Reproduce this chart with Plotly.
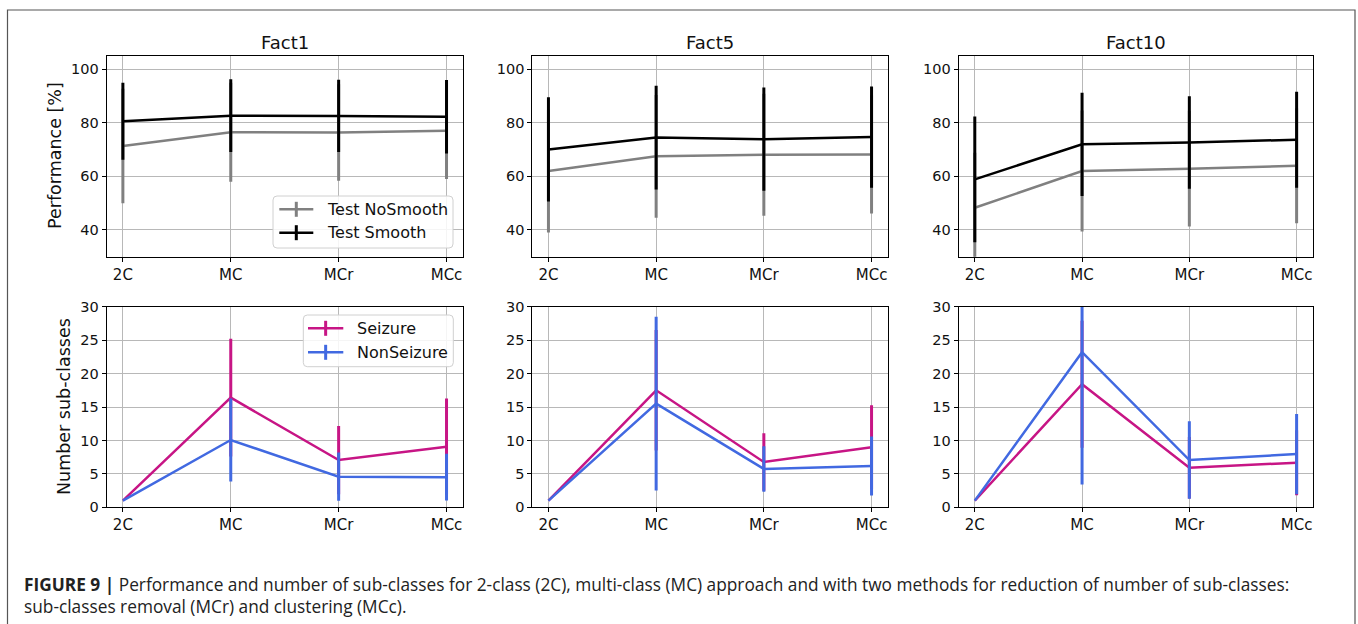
import plotly.graph_objects as go

W, H = 1358, 624

categories = ["2C", "MC", "MCr", "MCc"]
facts = ["Fact1", "Fact5", "Fact10"]

# Performance (top row)
nosmooth_mean = {
    "Fact1": [71.4, 76.5, 76.4, 77.1],
    "Fact5": [62.0, 67.5, 68.1, 68.2],
    "Fact10": [48.3, 62.0, 62.9, 64.0],
}
nosmooth_err = {
    "Fact1": [21.4, 18.5, 18.0, 18.1],
    "Fact5": [23.0, 22.9, 22.8, 22.1],
    "Fact10": [20.5, 22.6, 21.6, 21.5],
}
smooth_mean = {
    "Fact1": [80.6, 82.7, 82.6, 82.3],
    "Fact5": [70.1, 74.5, 73.9, 74.7],
    "Fact10": [58.9, 72.0, 72.7, 73.7],
}
smooth_err = {
    "Fact1": [14.4, 13.6, 13.5, 13.7],
    "Fact5": [19.5, 19.4, 19.3, 18.9],
    "Fact10": [23.5, 19.3, 17.3, 17.9],
}

# Number of sub-classes (bottom row)
seizure_mean = {
    "Fact1": [1.0, 16.4, 7.07, 9.06],
    "Fact5": [1.0, 17.5, 6.77, 8.97],
    "Fact10": [1.0, 18.4, 5.92, 6.67],
}
seizure_err = {
    "Fact1": [0.0, 8.8, 5.1, 7.2],
    "Fact5": [0.0, 9.0, 4.3, 6.3],
    "Fact10": [0.0, 9.5, 4.6, 4.85],
}
nonseizure_mean = {
    "Fact1": [1.0, 10.06, 4.58, 4.5],
    "Fact5": [1.0, 15.5, 5.73, 6.17],
    "Fact10": [1.0, 23.2, 7.07, 7.97],
}
nonseizure_err = {
    "Fact1": [0.0, 6.2, 3.6, 3.5],
    "Fact5": [0.0, 13.0, 3.4, 4.4],
    "Fact10": [0.0, 19.8, 5.8, 6.0],
}

GRAY = "#808080"
BLACK = "#000000"
MAGENTA = "#C71585"
BLUE = "#4169E1"

def px(x):
    return x / W

def py(y):
    return 1 - y / H

# panel pixel boxes
col_x = [(106.7, 462.7), (532.3, 887.7), (958.7, 1312.7)]
top_y = (56.0, 256.7)
bot_y = (306.7, 507.3)

fig = go.Figure()

def add_series(xa, ya, y, err, color):
    fig.add_trace(go.Scatter(
        x=categories, y=y, mode="lines",
        line=dict(color=color, width=2.5),
        error_y=dict(type="data", array=err, visible=True, color=color, thickness=3, width=0),
        xaxis=xa, yaxis=ya, showlegend=False, hoverinfo="x+y",
    ))

layout_axes = {}
FONT = "DejaVu Sans"
for i, f in enumerate(facts):
    ti, bi = i + 1, i + 4
    tx = "x" if ti == 1 else f"x{ti}"
    tyy = "y" if ti == 1 else f"y{ti}"
    bx, byy = f"x{bi}", f"y{bi}"
    add_series(tx, tyy, nosmooth_mean[f], nosmooth_err[f], GRAY)
    add_series(tx, tyy, smooth_mean[f], smooth_err[f], BLACK)
    add_series(bx, byy, seizure_mean[f], seizure_err[f], MAGENTA)
    add_series(bx, byy, nonseizure_mean[f], nonseizure_err[f], BLUE)

    common = dict(showline=True, linecolor="black", linewidth=1, mirror=True,
                  ticks="outside", ticklen=4, tickwidth=1, tickcolor="black",
                  showgrid=True, gridcolor="#b8b8b8", gridwidth=1, zeroline=False,
                  automargin=False)
    xd = [px(col_x[i][0]), px(col_x[i][1])]
    for idx, yb, yr, dt in [(ti, top_y, [30, 105], [40, 60, 80, 100]), (bi, bot_y, [0, 30], [0, 5, 10, 15, 20, 25, 30])]:
        xk = "xaxis" if idx == 1 else f"xaxis{idx}"
        yk = "yaxis" if idx == 1 else f"yaxis{idx}"
        ya_name = "y" if idx == 1 else f"y{idx}"
        xa_name = "x" if idx == 1 else f"x{idx}"
        layout_axes[xk] = dict(domain=xd, anchor=ya_name, type="category",
                               categoryarray=categories, range=[-0.15, 3.15],
                               tickfont=dict(family=FONT, size=15, color="#111"), **common)
        layout_axes[yk] = dict(domain=[py(yb[1]), py(yb[0])], anchor=xa_name,
                               range=yr, tickvals=dt,
                               tickfont=dict(family=FONT, size=14.5, color="#111"), **common)

fig.update_layout(**layout_axes)

annotations = []
shapes = []
for i, f in enumerate(facts):
    cx = (col_x[i][0] + col_x[i][1]) / 2
    annotations.append(dict(text=f, x=px(cx), y=py(43), xref="paper", yref="paper",
                             showarrow=False, font=dict(family=FONT, size=18, color="#111"),
                             xanchor="center", yanchor="middle"))
annotations.append(dict(text="Performance [%]", x=px(55), y=py(156), xref="paper", yref="paper",
                        showarrow=False, textangle=-90, font=dict(family=FONT, size=17.5, color="#111"),
                        xanchor="center", yanchor="middle"))
annotations.append(dict(text="Number sub-classes", x=px(64), y=py(407), xref="paper", yref="paper",
                        showarrow=False, textangle=-90, font=dict(family=FONT, size=17.5, color="#111"),
                        xanchor="center", yanchor="middle"))

def rounded_rect(x0, y0, x1, y1, r=4):
    X0, X1 = px(x0), px(x1)
    Y0, Y1 = py(y0), py(y1)
    rx, ry = r / W, r / H
    return (f"M {X0+rx},{Y0} L {X1-rx},{Y0} Q {X1},{Y0} {X1},{Y0-ry} "
            f"L {X1},{Y1+ry} Q {X1},{Y1} {X1-rx},{Y1} L {X0+rx},{Y1} "
            f"Q {X0},{Y1} {X0},{Y1+ry} L {X0},{Y0-ry} Q {X0},{Y0} {X0+rx},{Y0} Z")

def legend(box, entries, lx0, lx1, tx):
    shapes.append(dict(type="path", path=rounded_rect(*box), xref="paper", yref="paper",
                       line=dict(color="#d0d0d0", width=1), fillcolor="rgba(255,255,255,0.85)",
                       layer="above"))
    for (label, color, yy) in entries:
        shapes.append(dict(type="line", x0=px(lx0), x1=px(lx1), y0=py(yy), y1=py(yy),
                           xref="paper", yref="paper", line=dict(color=color, width=2.5), layer="above"))
        cx = (lx0 + lx1) / 2
        shapes.append(dict(type="line", x0=px(cx), x1=px(cx), y0=py(yy - 7.5), y1=py(yy + 7.5),
                           xref="paper", yref="paper", line=dict(color=color, width=3), layer="above"))
        annotations.append(dict(text=label, x=px(tx), y=py(yy), xref="paper", yref="paper",
                                showarrow=False, xanchor="left", yanchor="middle",
                                font=dict(family=FONT, size=16, color="#111")))

legend((273, 196, 453, 248), [("Test NoSmooth", GRAY, 209.3), ("Test Smooth", BLACK, 232.7)],
       279.3, 313.3, 325)
legend((303.3, 315, 453.3, 366.7), [("Seizure", MAGENTA, 328.3), ("NonSeizure", BLUE, 352.3)],
       308, 343.3, 355)

# outer frame
shapes.append(dict(type="rect", x0=px(7.5), x1=px(1355), y0=py(10), y1=-0.02, xref="paper", yref="paper",
                   line=dict(color="#555", width=1.2), fillcolor="rgba(0,0,0,0)", layer="below"))

CAP = "Open Sans"
annotations.append(dict(text="<b>FIGURE 9 |</b> Performance and number of sub-classes for 2-class (2C), multi-class (MC) approach and with two methods for reduction of number of sub-classes:",
                        x=px(22), y=py(584), xref="paper", yref="paper", showarrow=False,
                        xanchor="left", yanchor="middle", font=dict(family=CAP, size=17.3, color="#222")))
annotations.append(dict(text="sub-classes removal (MCr) and clustering (MCc).",
                        x=px(22), y=py(606), xref="paper", yref="paper", showarrow=False,
                        xanchor="left", yanchor="middle", font=dict(family=CAP, size=17.3, color="#222")))

fig.update_layout(width=W, height=H, margin=dict(l=0, r=0, t=0, b=0, pad=0, autoexpand=False),
                  paper_bgcolor="white", plot_bgcolor="white",
                  annotations=annotations, shapes=shapes, showlegend=False)

fig.write_html("out.html", config={"displayModeBar": False},
               post_script="document.body.style.margin='0';document.body.style.overflow='hidden';")
